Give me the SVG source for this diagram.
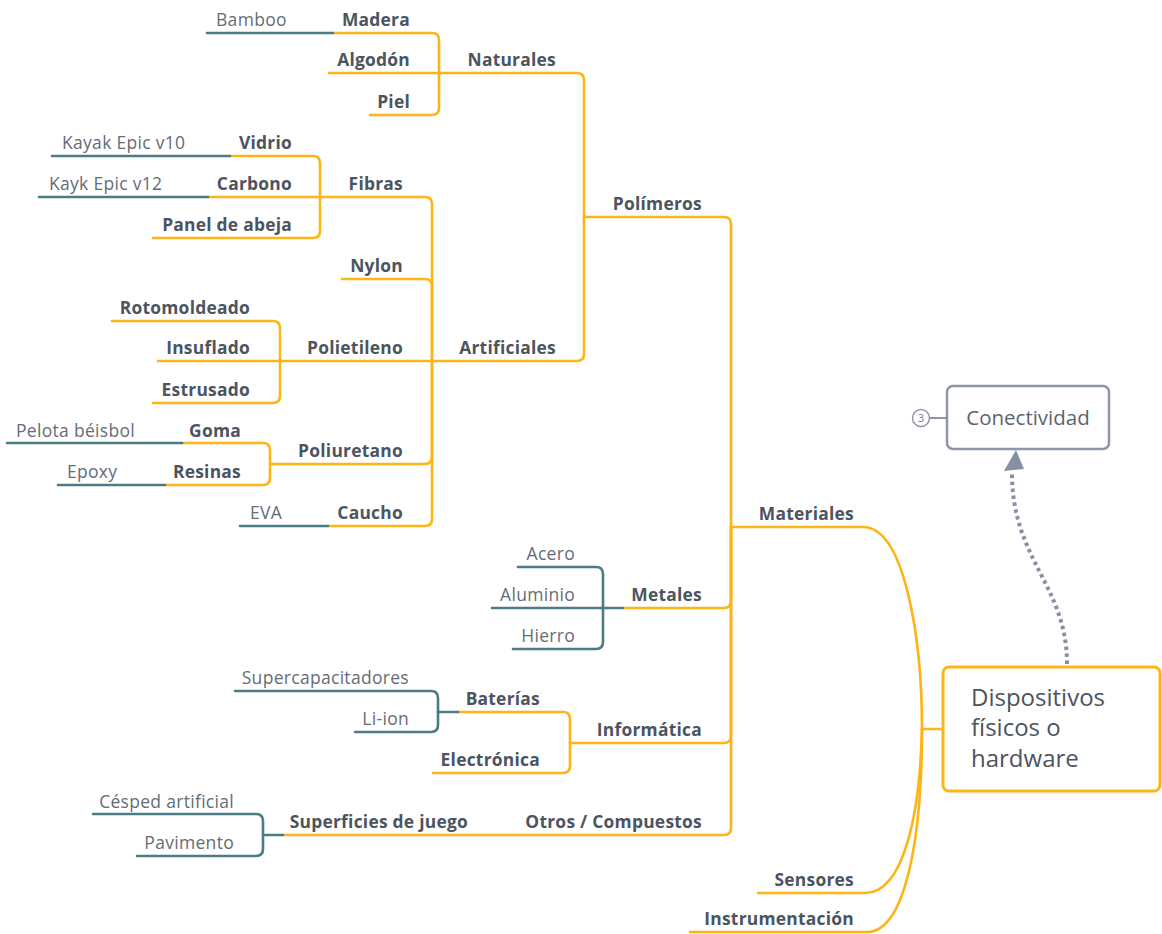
<svg xmlns="http://www.w3.org/2000/svg" width="1162" height="934" viewBox="0 0 1162 934">
  <style>
    .o { fill: none; stroke: #FDB515; stroke-width: 2.6; stroke-linecap: round; stroke-linejoin: round; }
    .t { fill: none; stroke: #4B7B84; stroke-width: 2.6; stroke-linecap: round; stroke-linejoin: round; }
    .b { font-family: "Open Sans", "Noto Sans", sans-serif; font-weight: 700; font-size: 17.4px; letter-spacing: 0.25px; fill: #4C5460; text-anchor: end; }
    .r { font-family: "Open Sans", "Noto Sans", sans-serif; font-weight: 400; font-size: 17.5px; letter-spacing: 0.3px; fill: #656C76; }
    .re { text-anchor: end; }
    .link { fill: none; stroke: #8790A2; stroke-width: 4; stroke-dasharray: 3.5 3.5; }
  </style>
  <rect width="1162" height="934" fill="#FFFFFF"/>

  <!-- branch connectors -->
  <g id="connectors">
    <!-- Naturales -->
    <path class="o" d="M333,33 H432 Q439,33 439,40 V73"/>
    <path class="o" d="M329,73 H439"/>
    <path class="o" d="M370,115 H432 Q439,115 439,108 V73"/>
    <path class="o" d="M439,73 H577 Q584,73 584,80 V217"/>
    <!-- Polímeros -->
    <path class="o" d="M584,217 H724 Q731,217 731,224 V527"/>
    <path class="o" d="M432,361 H577 Q584,361 584,354 V217"/>
    <!-- Fibras -->
    <path class="o" d="M230,156 H313 Q320,156 320,163 V197"/>
    <path class="o" d="M208,197 H320"/>
    <path class="o" d="M153,238 H313 Q320,238 320,231 V197"/>
    <path class="o" d="M320,197 H425 Q432,197 432,204 V361"/>
    <path class="o" d="M342,279 H425 Q432,279 432,286 V361"/>
    <!-- Polietileno -->
    <path class="o" d="M112,321 H273 Q280,321 280,328 V361"/>
    <path class="o" d="M158,361 H280"/>
    <path class="o" d="M153,403 H273 Q280,403 280,396 V361"/>
    <path class="o" d="M280,361 H432"/>
    <!-- Poliuretano / Caucho -->
    <path class="o" d="M182,443 H263 Q270,443 270,450 V464"/>
    <path class="o" d="M165,485 H263 Q270,485 270,478 V464"/>
    <path class="o" d="M270,464 H425 Q432,464 432,457 V361"/>
    <path class="o" d="M328,526 H425 Q432,526 432,519 V361"/>
    <!-- Metales / Informática / Otros -->
    <path class="o" d="M623,608 H724 Q731,608 731,601 V527"/>
    <path class="o" d="M458,712 H563 Q570,712 570,719 V743"/>
    <path class="o" d="M433,773 H563 Q570,773 570,766 V743"/>
    <path class="o" d="M570,743 H724 Q731,743 731,736 V527"/>
    <path class="o" d="M283,835 H724 Q731,835 731,828 V527"/>
    <!-- main branches to the central topic -->
    <path class="o" d="M731,527 H863 C905,527 922,640 922,729" stroke-width="3"/>
    <path class="o" d="M758,893 H865 C905,893 920,810 922,729" stroke-width="3"/>
    <path class="o" d="M690,932 H867 C905,932 922,840 922,729" stroke-width="3"/>
    <path class="o" d="M922,729 H943" stroke-width="3"/>

    <!-- leaf connectors -->
    <path class="t" d="M207,33 H333"/>
    <path class="t" d="M52,156 H230"/>
    <path class="t" d="M39,197 H208"/>
    <path class="t" d="M7,443 H182"/>
    <path class="t" d="M58,485 H165"/>
    <path class="t" d="M240,526 H328"/>
    <path class="t" d="M518,567 H596 Q603,567 603,574 V608"/>
    <path class="t" d="M492,608 H623"/>
    <path class="t" d="M513,649 H596 Q603,649 603,642 V608"/>
    <path class="t" d="M235,691 H431 Q438,691 438,698 V712"/>
    <path class="t" d="M355,732 H431 Q438,732 438,725 V712"/>
    <path class="t" d="M438,712 H458"/>
    <path class="t" d="M93,814 H256 Q263,814 263,821 V835"/>
    <path class="t" d="M137,856 H256 Q263,856 263,849 V835"/>
    <path class="t" d="M263,835 H283"/>

    <!-- relationship to Conectividad -->
    <path class="link" d="M1067,664 C1067,585 1012,560 1012,473"/>
    <polygon points="1016,450 1004,471 1024,469" fill="#8790A2"/>
  </g>

  <!-- central topic -->
  <g id="root">
    <rect x="943" y="667" width="217" height="124" rx="6" fill="#FFFFFF" stroke="#FDB515" stroke-width="3"/>
    <text font-family="'Open Sans', 'Noto Sans', sans-serif" font-size="24" fill="#4C5460">
      <tspan x="971" y="706">Dispositivos</tspan>
      <tspan x="971" y="736">físicos o</tspan>
      <tspan x="971" y="767">hardware</tspan>
    </text>
  </g>

  <!-- floating topic -->
  <g id="conectividad">
    <line x1="930" y1="418" x2="947" y2="418" stroke="#8E97A8" stroke-width="2"/>
    <circle cx="921" cy="418" r="8.5" fill="#FFFFFF" stroke="#8E97A8" stroke-width="1.5"/>
    <text x="921" y="422" font-family="'Open Sans', sans-serif" font-size="11.5" fill="#7B8494" text-anchor="middle">3</text>
    <rect x="947" y="386" width="162" height="63" rx="6" fill="#FFFFFF" stroke="#8E97A8" stroke-width="2.5"/>
    <text x="1028" y="425" font-family="'Open Sans', sans-serif" font-size="20.5" fill="#5C6370" text-anchor="middle">Conectividad</text>
  </g>

  <!-- main topics -->
  <g id="materiales"><text class="b" x="854" y="520">Materiales</text></g>
  <g id="sensores"><text class="b" x="854" y="886">Sensores</text></g>
  <g id="instrumentacion"><text class="b" x="854" y="925">Instrumentación</text></g>

  <!-- Materiales subtopics -->
  <g id="polimeros"><text class="b" x="702" y="210">Polímeros</text></g>
  <g id="metales"><text class="b" x="702" y="601">Metales</text></g>
  <g id="informatica"><text class="b" x="702" y="736">Informática</text></g>
  <g id="otros"><text class="b" x="702" y="828">Otros / Compuestos</text></g>

  <!-- Polímeros -->
  <g id="naturales"><text class="b" x="556" y="66">Naturales</text></g>
  <g id="artificiales"><text class="b" x="556" y="354">Artificiales</text></g>
  <g id="madera"><text class="b" x="410" y="26">Madera</text></g>
  <g id="algodon"><text class="b" x="410" y="66">Algodón</text></g>
  <g id="piel"><text class="b" x="410" y="108">Piel</text></g>
  <g id="bamboo"><text class="r" x="216" y="26">Bamboo</text></g>

  <g id="fibras"><text class="b" x="403" y="190">Fibras</text></g>
  <g id="vidrio"><text class="b" x="292" y="149">Vidrio</text></g>
  <g id="carbono"><text class="b" x="292" y="190">Carbono</text></g>
  <g id="panel"><text class="b" x="292" y="231">Panel de abeja</text></g>
  <g id="kayak10"><text class="r" x="62" y="149">Kayak Epic v10</text></g>
  <g id="kayak12"><text class="r" x="49" y="190">Kayk Epic v12</text></g>

  <g id="nylon"><text class="b" x="403" y="272">Nylon</text></g>

  <g id="polietileno"><text class="b" x="403" y="354">Polietileno</text></g>
  <g id="rotomoldeado"><text class="b" x="250" y="314">Rotomoldeado</text></g>
  <g id="insuflado"><text class="b" x="250" y="354">Insuflado</text></g>
  <g id="estrusado"><text class="b" x="250" y="396">Estrusado</text></g>

  <g id="poliuretano"><text class="b" x="403" y="457">Poliuretano</text></g>
  <g id="goma"><text class="b" x="241" y="437">Goma</text></g>
  <g id="resinas"><text class="b" x="241" y="478">Resinas</text></g>
  <g id="pelota"><text class="r" x="16" y="437">Pelota béisbol</text></g>
  <g id="epoxy"><text class="r" x="67" y="478">Epoxy</text></g>

  <g id="caucho"><text class="b" x="403" y="519">Caucho</text></g>
  <g id="eva"><text class="r" x="250" y="519">EVA</text></g>

  <!-- Metales -->
  <g id="acero"><text class="r re" x="575" y="560">Acero</text></g>
  <g id="aluminio"><text class="r re" x="575" y="601">Aluminio</text></g>
  <g id="hierro"><text class="r re" x="575" y="642">Hierro</text></g>

  <!-- Informática -->
  <g id="baterias"><text class="b" x="540" y="705">Baterías</text></g>
  <g id="electronica"><text class="b" x="540" y="766">Electrónica</text></g>
  <g id="supercap"><text class="r re" x="409" y="684">Supercapacitadores</text></g>
  <g id="liion"><text class="r re" x="409" y="725">Li-ion</text></g>

  <!-- Otros / Compuestos -->
  <g id="superficies"><text class="b" x="468" y="828">Superficies de juego</text></g>
  <g id="cesped"><text class="r re" x="234" y="808">Césped artificial</text></g>
  <g id="pavimento"><text class="r re" x="234" y="849">Pavimento</text></g>
</svg>
